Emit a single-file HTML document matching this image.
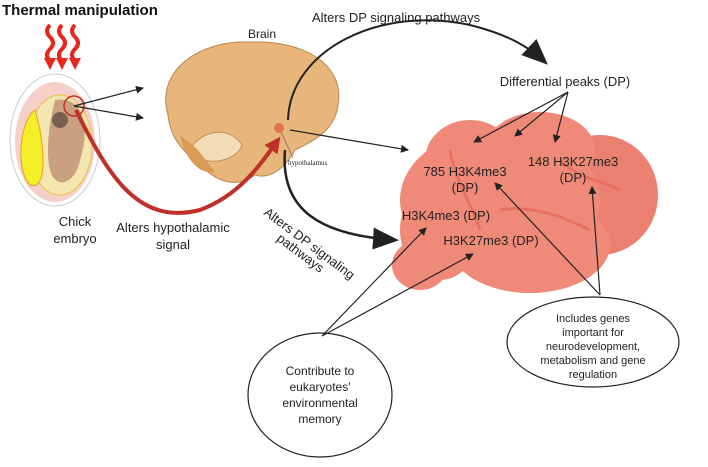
<!DOCTYPE html>
<html><head><meta charset="utf-8"><style>
body{margin:0;background:#fff}
svg{display:block;font-family:"Liberation Sans",sans-serif}
</style></head><body>
<svg width="708" height="467" viewBox="0 0 708 467">
<defs>
<marker id="a" markerWidth="8" markerHeight="8" refX="7" refY="4" orient="auto" markerUnits="userSpaceOnUse"><path d="M0,0 L8,4 L0,8 Z" fill="#222"/></marker>
<marker id="big" markerWidth="26" markerHeight="22" refX="22" refY="11" orient="auto" markerUnits="userSpaceOnUse"><path d="M0,0 L26,11 L0,22 Z" fill="#222"/></marker>
<marker id="red" markerWidth="16" markerHeight="16" refX="12" refY="8" orient="auto" markerUnits="userSpaceOnUse"><path d="M0,0 L16,8 L0,16 Z" fill="#c0302a"/></marker>
</defs>
<text x="2" y="15" font-size="15" font-weight="bold" fill="#111">Thermal manipulation</text>
<g stroke="#e8261c" stroke-width="4" fill="none">
<path d="M50,25 q-6,6 0,12 q6,6 0,12 q-6,6 0,12"/>
<path d="M62,25 q-6,6 0,12 q6,6 0,12 q-6,6 0,12"/>
<path d="M75,25 q-6,6 0,12 q6,6 0,12 q-6,6 0,12"/>
</g>
<g fill="#e8261c"><path d="M44,58 L56,58 L50,70Z"/><path d="M56,58 L68,58 L62,70Z"/><path d="M69,58 L81,58 L75,70Z"/></g>
<ellipse cx="55" cy="140" rx="45" ry="66" fill="#fff" stroke="#ccc"/>
<ellipse cx="55" cy="142" rx="40" ry="60" fill="#f5d0c8"/>
<ellipse cx="60" cy="145" rx="32" ry="50" fill="#f3e6b0" stroke="#e8c040"/>
<path d="M35,110 C20,120 15,170 30,185 C45,190 45,160 40,130Z" fill="#f5ef2a" stroke="#e8a020"/>
<path d="M55,100 C85,95 90,130 80,160 C75,185 55,190 50,170 C45,150 50,120 55,100Z" fill="#c9a080"/>
<circle cx="60" cy="120" r="8" fill="#7a6050"/>
<circle cx="74" cy="106" r="10" fill="none" stroke="#c0302a" stroke-width="1.5"/>
<text x="75" y="226" font-size="13" text-anchor="middle" fill="#222">Chick</text>
<text x="75" y="243" font-size="13" text-anchor="middle" fill="#222">embryo</text>
<path d="M168,115 C155,70 200,40 250,42 C305,40 345,65 338,105 C335,130 315,140 295,150 C285,168 270,180 255,175 C235,190 215,180 200,165 C180,150 170,135 168,115Z" fill="#e8b67a" stroke="#b88550"/>
<path d="M190,150 C200,130 230,125 242,145 C238,160 205,170 190,150Z" fill="#f3dcb5" stroke="#c09060"/>
<path d="M180,135 C185,160 200,175 215,172 L198,150Z" fill="#d89a55"/>
<circle cx="279" cy="128" r="5" fill="#e07050"/>
<text x="262" y="38" font-size="12" text-anchor="middle" fill="#222">Brain</text>
<text x="288" y="165" font-size="7" font-family="Liberation Serif,serif" fill="#222">hypothalamus</text>
<line x1="281" y1="132" x2="293" y2="158" stroke="#555" stroke-width="0.6"/>
<line x1="74" y1="106" x2="143" y2="88" stroke="#222" stroke-width="1.2" marker-end="url(#a)"/>
<line x1="74" y1="106" x2="143" y2="118" stroke="#222" stroke-width="1.2" marker-end="url(#a)"/>
<path d="M76,110 C110,180 140,225 200,210 C240,195 260,165 278,140" fill="none" stroke="#c0302a" stroke-width="4" marker-end="url(#red)"/>
<text x="173" y="232" font-size="13" text-anchor="middle" fill="#222">Alters hypothalamic</text>
<text x="173" y="249" font-size="13" text-anchor="middle" fill="#222">signal</text>
<path d="M288,120 C290,50 380,5 470,25 C510,35 530,48 545,62" fill="none" stroke="#222" stroke-width="2" marker-end="url(#big)"/>
<text x="312" y="22" font-size="13" fill="#222">Alters DP signaling pathways</text>
<line x1="290" y1="130" x2="408" y2="150" stroke="#222" stroke-width="1.2" marker-end="url(#a)"/>
<path d="M285,150 C280,210 320,235 395,240" fill="none" stroke="#222" stroke-width="2.5" marker-end="url(#big)"/>
<text transform="translate(263,214) rotate(37)" font-size="13" fill="#222">Alters DP signaling</text>
<text transform="translate(276,240) rotate(37)" font-size="13" fill="#222">pathways</text>
<g fill="#f08a78">
<ellipse cx="600" cy="195" rx="58" ry="60" fill="#ec8070"/>
<ellipse cx="500" cy="200" rx="100" ry="72"/>
<ellipse cx="440" cy="230" rx="40" ry="50"/>
<ellipse cx="530" cy="245" rx="80" ry="48"/>
<ellipse cx="470" cy="160" rx="45" ry="40"/>
<ellipse cx="540" cy="150" rx="55" ry="38"/>
<ellipse cx="420" cy="265" rx="28" ry="25"/>
</g>
<g stroke="#e86a5c" stroke-width="3" fill="none" opacity="0.8">
<path d="M500,210 C530,205 560,215 590,230"/><path d="M450,150 C455,180 470,200 480,230"/><path d="M560,160 C580,180 600,180 620,190"/>
</g>
<text x="565" y="86" font-size="13" text-anchor="middle" fill="#222">Differential peaks (DP)</text>
<g stroke="#222" stroke-width="1.2" marker-end="url(#a)">
<line x1="568" y1="92" x2="474" y2="142"/>
<line x1="568" y1="92" x2="515" y2="136"/>
<line x1="568" y1="92" x2="555" y2="142"/>
</g>
<g font-size="13" fill="#222" text-anchor="middle">
<text x="465" y="176">785 H3K4me3</text><text x="465" y="192">(DP)</text>
<text x="573" y="166">148 H3K27me3</text><text x="573" y="182">(DP)</text>
<text x="446" y="220">H3K4me3 (DP)</text>
<text x="491" y="245">H3K27me3 (DP)</text>
</g>
<ellipse cx="320" cy="395" rx="72" ry="62" fill="#fff" stroke="#222" stroke-width="1.2"/>
<g font-size="12" fill="#222" text-anchor="middle">
<text x="320" y="375">Contribute to</text><text x="320" y="391">eukaryotes'</text><text x="320" y="407">environmental</text><text x="320" y="423">memory</text>
</g>
<ellipse cx="593" cy="342" rx="86" ry="45" fill="#fff" stroke="#222" stroke-width="1.2"/>
<g font-size="11" fill="#222" text-anchor="middle">
<text x="593" y="322">Includes genes</text><text x="593" y="336">important for</text><text x="593" y="350">neurodevelopment,</text><text x="593" y="364">metabolism and gene</text><text x="593" y="378">regulation</text>
</g>
<g stroke="#222" stroke-width="1.2" marker-end="url(#a)">
<line x1="322" y1="336" x2="426" y2="228"/>
<line x1="322" y1="336" x2="473" y2="254"/>
<line x1="600" y1="295" x2="495" y2="183"/>
<line x1="600" y1="295" x2="592" y2="187"/>
</g>
</svg>
</body></html>
